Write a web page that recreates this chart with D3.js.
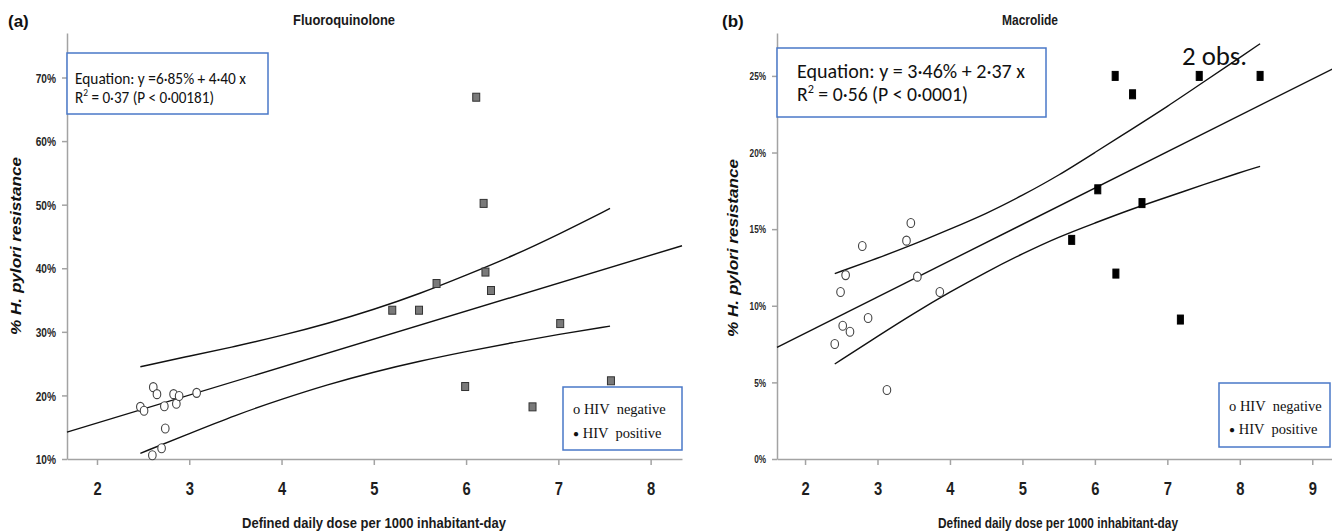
<!DOCTYPE html>
<html>
<head>
<meta charset="utf-8">
<script src="https://cdn.jsdelivr.net/npm/d3@7"></script>
<style>
  body { margin: 0; background: #fff; }
  svg { display: block; }
</style>
</head>
<body>
<svg width="1332" height="532"></svg>
<script>
// ---- data ----
// (a) fluoroquinolone: [DDD, % resistance]
const fqNeg = [[2.47,18.2],[2.51,17.6],[2.61,21.3],[2.65,20.2],[2.73,18.3],[2.74,14.8],
  [2.70,11.7],[2.60,10.6],[2.83,20.2],[2.86,18.7],[2.89,19.9],[3.08,20.4]];
const fqPos = [[6.11,66.9],[6.19,50.2],[6.21,39.4],[6.27,36.5],[5.68,37.6],[5.20,33.4],
  [5.49,33.4],[7.02,31.3],[5.99,21.4],[6.72,18.2],[7.57,22.3]];
const fqBandX = [2.47,3,3.5,4,4.5,5,5.5,6,6.5,7,7.56];
const fqUpper = [24.5,26.2,27.7,29.4,31.3,33.5,36.0,38.9,41.9,45.3,49.4];
const fqLower = [10.9,14.0,16.9,19.4,21.7,23.7,25.4,26.9,28.3,29.6,30.9];
const fqFit = [6.85, 4.40]; // intercept, slope
const fqXTicks = [2,3,4,5,6,7,8];
const fqYTicks = [10,20,30,40,50,60,70];

// (b) macrolide
const mlNeg = [[3.46,15.4],[3.40,14.25],[2.79,13.9],[2.56,12.0],[2.49,10.9],[3.55,11.9],
  [3.86,10.9],[2.87,9.2],[2.52,8.7],[2.62,8.3],[2.41,7.5],[3.13,4.5]];
const mlPos = [[6.28,25.0],[6.52,23.8],[7.44,25.0],[8.28,25.0],[6.04,17.6],[6.65,16.7],
  [5.68,14.3],[6.29,12.1],[7.18,9.1]];
const mlBandX = [2.41,3,3.5,4,4.5,5,5.5,6,6.5,7,7.5,8,8.28];
const mlUpper = [12.1,13.1,14.0,15.0,16.0,17.2,18.5,20.0,21.5,23.0,24.6,26.2,27.1];
const mlLower = [6.2,8.0,9.5,10.9,12.2,13.4,14.5,15.4,16.3,17.1,17.9,18.7,19.1];
const mlFit = [3.46, 2.37];
const mlXTicks = [2,3,4,5,6,7,8,9];
const mlYTicks = [0,5,10,15,20,25];

const arial = '"Liberation Sans", Arial, sans-serif';
const calibri = 'Carlito, Calibri, Lato, sans-serif';
const times = '"Liberation Serif", "Times New Roman", serif';

const svg = d3.select("svg");

function font(sel, family, size, weight, style) {
  sel.attr("font-family", family).attr("font-size", size)
    .style("font-weight", weight || "normal").style("font-style", style || "normal");
}
// no Arial Narrow here, so squeeze Arial text horizontally
function squeeze(sel, f) {
  sel.each(function () {
    const w = this.getComputedTextLength();
    d3.select(this).attr("textLength", w * f).attr("lengthAdjust", "spacingAndGlyphs");
  });
}
function fit(sel, w) {
  sel.attr("textLength", w).attr("lengthAdjust", "spacingAndGlyphs");
}

function panel(o) {
  const g = svg.append("g");
  const x = d3.scaleLinear().domain(o.xDom).range(o.xRange);
  const y = d3.scaleLinear().domain(o.yDom).range([459, 33]);

  // axes
  const xa = g.append("g").attr("transform", "translate(0,459)")
    .call(d3.axisBottom(x).tickValues(o.xTicks).tickSize(6).tickSizeOuter(0).tickFormat(d3.format("d")));
  xa.selectAll("text").attr("y", 36).attr("dy", 0).attr("fill", "#1e1e1e")
    .call(font, arial, 18, "bold").call(squeeze, 0.82);

  const ya = g.append("g").attr("transform", `translate(${o.xRange[0]},0)`)
    .call(d3.axisLeft(y).tickValues(o.yTicks).tickSize(5).tickSizeOuter(0).tickFormat(d => d + "%"));
  ya.selectAll("text").attr("x", -11).attr("dy", "0.36em").attr("fill", "#262626")
    .call(font, arial, o.yTickSize, "bold").call(squeeze, 0.78);

  g.selectAll(".domain, .tick line").attr("stroke", "#a3a3a3").attr("stroke-width", 1.5);

  // titles
  g.append("text").attr("x", o.panelX).attr("y", 27).text(o.panel).attr("fill", "#111")
    .call(font, arial, 17, "bold");
  g.append("text").attr("x", o.titleX).attr("y", 25).attr("text-anchor", "middle").text(o.title)
    .attr("fill", "#1a1a1a").call(font, arial, 15, "bold").call(fit, o.titleW);
  g.append("text").attr("x", o.xLabelX).attr("y", 528).attr("text-anchor", "middle")
    .text("Defined daily dose per 1000 inhabitant-day").attr("fill", "#1a1a1a")
    .call(font, arial, 15.5, "bold").call(fit, o.xLabelW);
  g.append("text").attr("transform", `translate(${o.yLabelX},${o.yLabelY}) rotate(-90)`)
    .attr("text-anchor", "middle").text("% H. pylori resistance").attr("fill", "#111")
    .call(font, arial, 15, "bold", "italic").call(fit, 178);

  // regression line and confidence bands
  const line = d3.line().x(d => x(d[0])).y(d => y(d[1]));
  const band = d3.line().x(d => x(d[0])).y(d => y(d[1])).curve(d3.curveBasis);
  const [a, b] = o.fit;
  g.append("path").attr("d", line(o.xDom.map(v => [v, a + b * v])))
    .attr("fill", "none").attr("stroke", "#111").attr("stroke-width", 1.4);
  [o.upper, o.lower].forEach(arr => {
    g.append("path").attr("d", band(o.bandX.map((v, i) => [v, arr[i]])))
      .attr("fill", "none").attr("stroke", "#111").attr("stroke-width", 1.4);
  });

  // points
  g.selectAll(".neg").data(o.neg).join("ellipse").attr("class", "neg")
    .attr("cx", d => x(d[0])).attr("cy", d => y(d[1])).attr("rx", 3.8).attr("ry", 4.5)
    .attr("fill", "#fff").attr("stroke", "#444").attr("stroke-width", 1.1);
  g.selectAll(".pos").data(o.pos).join("rect").attr("class", "pos")
    .attr("x", d => x(d[0]) - o.sq[0] / 2).attr("y", d => y(d[1]) - o.sq[1] / 2)
    .attr("width", o.sq[0]).attr("height", o.sq[1])
    .attr("fill", o.posFill).attr("stroke", o.posStroke).attr("stroke-width", 1);

  // equation box
  const eb = o.eqBox;
  g.append("rect").attr("x", eb[0]).attr("y", eb[1]).attr("width", eb[2]).attr("height", eb[3])
    .attr("fill", "#fff").attr("stroke", "#4a78c8").attr("stroke-width", 1.5);
  g.append("text").attr("x", eb[0] + o.eqPad).attr("y", o.eqY[0]).text(o.eq1).attr("fill", "#111")
    .call(font, calibri, o.eqSize).call(fit, o.eqW[0]);
  const t2 = g.append("text").attr("x", eb[0] + o.eqPad).attr("y", o.eqY[1]).attr("fill", "#111")
    .call(font, calibri, o.eqSize);
  t2.append("tspan").text("R");
  t2.append("tspan").text("2").attr("dy", -o.eqSize * 0.4).attr("font-size", o.eqSize * 0.62);
  t2.append("tspan").text(o.eq2).attr("dy", o.eqSize * 0.4);
  t2.call(fit, o.eqW[1]);

  // legend
  const lb = o.legBox;
  g.append("rect").attr("x", lb[0]).attr("y", lb[1]).attr("width", lb[2]).attr("height", lb[3])
    .attr("fill", "#fff").attr("stroke", "#4a78c8").attr("stroke-width", 1.5);
  g.append("text").attr("x", lb[0] + 10).attr("y", o.legY[0]).text("o HIV  negative")
    .style("white-space", "pre").attr("fill", "#111").call(font, times, 14.5);
  const lp = g.append("text").attr("x", lb[0] + 10).attr("y", o.legY[1])
    .style("white-space", "pre").attr("fill", "#111").call(font, times, 14.5);
  lp.append("tspan").text("●").attr("font-size", 10).attr("dy", -1);
  lp.append("tspan").text(" HIV  positive").attr("dy", 1);

  return { g, x, y };
}

panel({
  panel: "(a)", panelX: 8, title: "Fluoroquinolone", titleX: 344, titleW: 102,
  xLabelX: 374, xLabelW: 264, yLabelX: 21, yLabelY: 246,
  xDom: [1.675, 8.34], xRange: [67, 682], yDom: [10, 77], yTickSize: 13,
  xTicks: fqXTicks, yTicks: fqYTicks,
  neg: fqNeg, pos: fqPos, bandX: fqBandX, upper: fqUpper, lower: fqLower, fit: fqFit,
  posFill: "#7a7a7a", posStroke: "#333", sq: [7, 8],
  eqBox: [67, 53, 201, 61], eqPad: 8, eqY: [84, 103], eqSize: 16.5, eqW: [171, 139],
  eq1: "Equation: y =6·85% + 4·40 x", eq2: " = 0·37 (P < 0·00181)",
  legBox: [563, 387, 119, 63], legY: [414, 438]
});

const pb = panel({
  panel: "(b)", panelX: 722, title: "Macrolide", titleX: 1030, titleW: 56,
  xLabelX: 1058, xLabelW: 240, yLabelX: 738, yLabelY: 248,
  xDom: [1.613, 9.3], xRange: [777, 1334], yDom: [0, 27.8], yTickSize: 10.5,
  xTicks: mlXTicks, yTicks: mlYTicks,
  neg: mlNeg, pos: mlPos, bandX: mlBandX, upper: mlUpper, lower: mlLower, fit: mlFit,
  posFill: "#000", posStroke: "#000", sq: [6, 9],
  eqBox: [777, 48, 269, 69], eqPad: 20, eqY: [78, 101], eqSize: 20, eqW: [228, 171],
  eq1: "Equation: y = 3·46% + 2·37 x", eq2: " = 0·56 (P < 0·0001)",
  legBox: [1219, 383, 111, 64], legY: [411, 434]
});

// "2 obs." note on the doubled point
pb.g.append("text").attr("x", 1182).attr("y", 65).text("2 obs.").attr("fill", "#111")
  .call(font, calibri, 26).call(fit, 65);
</script>
</body>
</html>
